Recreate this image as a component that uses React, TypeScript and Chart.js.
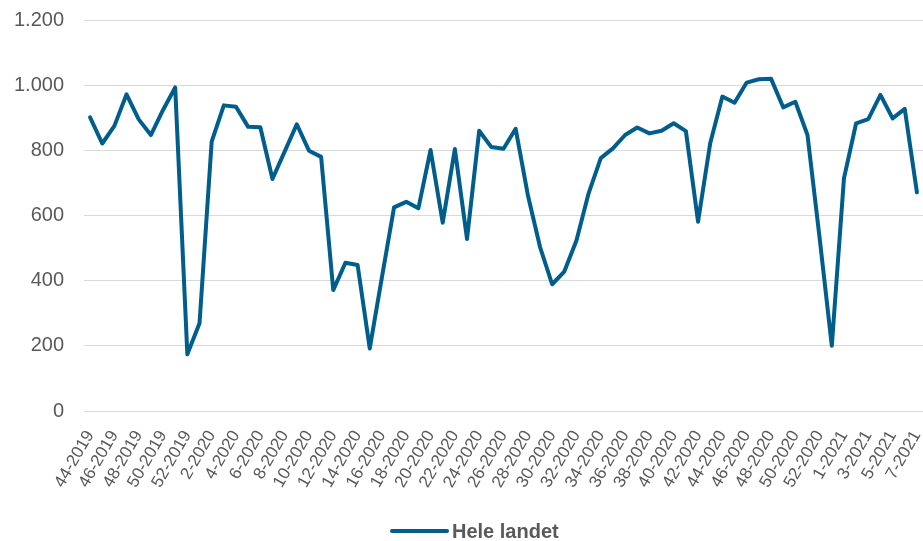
import { useEffect, useRef } from 'react';
import { Chart, registerables } from 'chart.js';

Chart.register(...registerables);

const weeks: string[] = [
  '44-2019', '45-2019', '46-2019', '47-2019', '48-2019', '49-2019', '50-2019', '51-2019', '52-2019',
  '1-2020', '2-2020', '3-2020', '4-2020', '5-2020', '6-2020', '7-2020', '8-2020', '9-2020', '10-2020',
  '11-2020', '12-2020', '13-2020', '14-2020', '15-2020', '16-2020', '17-2020', '18-2020', '19-2020', '20-2020',
  '21-2020', '22-2020', '23-2020', '24-2020', '25-2020', '26-2020', '27-2020', '28-2020', '29-2020', '30-2020',
  '31-2020', '32-2020', '33-2020', '34-2020', '35-2020', '36-2020', '37-2020', '38-2020', '39-2020', '40-2020',
  '41-2020', '42-2020', '43-2020', '44-2020', '45-2020', '46-2020', '47-2020', '48-2020', '49-2020', '50-2020',
  '51-2020', '52-2020', '53-2020',
  '1-2021', '2-2021', '3-2021', '4-2021', '5-2021', '6-2021', '7-2021',
];

const heleLandet: number[] = [
  901, 821, 875, 972, 895, 847, 924, 993, 174, 269,
  827, 938, 934, 872, 871, 712, 796, 880, 799, 780,
  371, 455, 448, 192, 410, 625, 642, 622, 801, 578,
  804, 528, 860, 810, 805, 866, 663, 504, 389, 428,
  523, 668, 776, 806, 847, 870, 852, 860, 883, 859,
  581, 822, 965, 946, 1008, 1018, 1020, 932, 949, 847,
  530, 200, 714, 883, 896, 970, 898, 927, 671,
];

const seriesName = 'Hele landet';
const yMin = 0;
const yMax = 1200;
const yStep = 200;

const LINE_COLOR = '#005d8c';
const TEXT_COLOR = '#595959';
const GRID_COLOR = '#d9d9d9';
const FONT_FAMILY = '"Liberation Sans", Arial, sans-serif';

const formatThousands = (v: number) =>
  String(v).replace(/\B(?=(\d{3})+(?!\d))/g, '.');

const bottomLegend = {
  id: 'bottomLegend',
  afterDraw(chart: any) {
    const ctx = chart.ctx as CanvasRenderingContext2D;
    const ds = chart.data.datasets[0];
    const y = chart.height - 10;
    const x0 = 392;
    const lineLen = 55;
    ctx.save();
    ctx.strokeStyle = ds.borderColor;
    ctx.lineWidth = 4;
    ctx.lineCap = 'round';
    ctx.beginPath();
    ctx.moveTo(x0, y);
    ctx.lineTo(x0 + lineLen, y);
    ctx.stroke();
    ctx.font = `bold 20px ${FONT_FAMILY}`;
    ctx.fillStyle = TEXT_COLOR;
    ctx.textBaseline = 'middle';
    ctx.textAlign = 'left';
    ctx.fillText(ds.label, x0 + lineLen + 5, y + 1);
    ctx.restore();
  },
};

export default function App() {
  const canvasRef = useRef<HTMLCanvasElement | null>(null);

  useEffect(() => {
    if (!canvasRef.current) return;
    const chart = new Chart(canvasRef.current, {
      type: 'line',
      data: {
        labels: weeks,
        datasets: [
          {
            label: seriesName,
            data: heleLandet,
            borderColor: LINE_COLOR,
            backgroundColor: LINE_COLOR,
            borderWidth: 4,
            pointRadius: 0,
            pointHoverRadius: 0,
            tension: 0,
            borderJoinStyle: 'round',
            borderCapStyle: 'round',
            fill: false,
          },
        ],
      },
      options: {
        animation: false,
        responsive: true,
        maintainAspectRatio: false,
        devicePixelRatio: 1,
        layout: { padding: { top: 20, left: 0, right: 0, bottom: 0 } },
        plugins: {
          legend: { display: false },
          tooltip: { enabled: false },
        },
        scales: {
          x: {
            type: 'category',
            offset: true,
            grid: { display: false, drawTicks: false },
            border: { display: false },
            ticks: {
              autoSkip: false,
              maxRotation: 60,
              minRotation: 60,
              padding: 16,
              color: TEXT_COLOR,
              font: { family: FONT_FAMILY, size: 17 },
              callback: (_v: any, i: number) => (i % 2 === 0 ? weeks[i] : ''),
            },
            afterFit: (scale: any) => {
              scale.height = 130;
              scale.paddingLeft = 0;
              scale.paddingRight = 0;
            },
          },
          y: {
            min: yMin,
            max: yMax,
            grid: { color: GRID_COLOR, lineWidth: 1, drawTicks: false },
            border: { display: false },
            ticks: {
              stepSize: yStep,
              padding: 20,
              color: TEXT_COLOR,
              font: { family: FONT_FAMILY, size: 20 },
              callback: (v: any) => formatThousands(Number(v)),
            },
            afterFit: (scale: any) => {
              scale.width = 84;
              scale.paddingTop = 0;
              scale.paddingBottom = 0;
            },
          },
        },
      },
      plugins: [bottomLegend],
    });
    return () => chart.destroy();
  }, []);

  return (
    <div style={{ position: 'absolute', left: 0, top: 0, width: 923, height: 541 }}>
      <canvas ref={canvasRef} />
    </div>
  );
}
